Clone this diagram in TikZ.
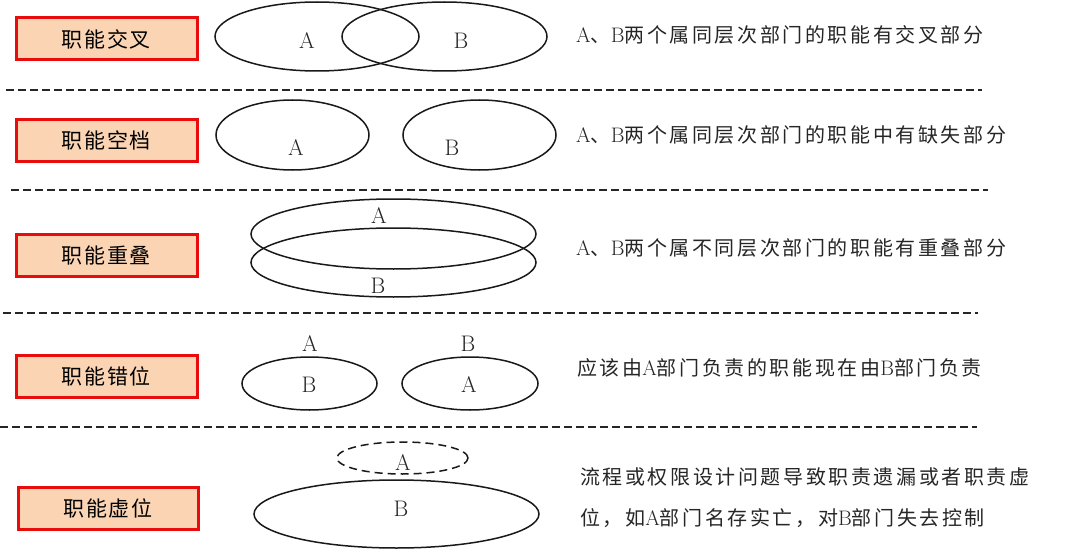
\documentclass[tikz,border=0pt]{standalone}
\usepackage{fontspec}
\usetikzlibrary{shapes.geometric}
\newfontfamily\cjktext[LetterSpace=13]{Noto Sans CJK SC}
\newfontfamily\cjkbox[LetterSpace=8]{Noto Sans CJK SC}
\definecolor{boxfill}{RGB}{251,212,180}
\definecolor{boxred}{RGB}{232,12,12}
\newcommand{\lat}[1]{{\rmfamily\fontsize{21}{24}\selectfont #1}}
\tikzset{
  catbox/.style={draw=boxred, line width=3pt, fill=boxfill, rectangle,
    minimum width=181pt, minimum height=42pt, inner sep=0pt,
    font=\cjkbox\fontsize{21}{24}\selectfont},
  ell/.style={draw=black!90, line width=1.5pt, ellipse, inner sep=0pt},
  dell/.style={ell, dash pattern=on 8pt off 5pt},
  lbl/.style={inner sep=0pt, font=\rmfamily\fontsize{22.5}{26}\selectfont, text=black!85},
  desc/.style={inner sep=0pt, anchor=west, text=black!85,
    font=\cjktext\fontsize{20}{24}\selectfont},
  sep/.style={draw=black!85, line width=1.4pt, dash pattern=on 8pt off 4pt}
}
\begin{document}
\begin{tikzpicture}[x=1pt, y=-1pt]
\useasboundingbox[fill=white] (0,0) rectangle (1080,551);

% category boxes
\node[catbox] (b1) at (106.5,39) {职能交叉};
\node[catbox] (b2) at (106.5,140.5) {职能空档};
\node[catbox] (b3) at (106.5,255) {职能重叠};
\node[catbox] (b4) at (106.5,376) {职能错位};
\node[catbox, minimum width=180pt] (b5) at (108,508.5) {职能虚位};

% separators
\coordinate (s1a) at (6,90);   \coordinate (s1b) at (982,90);
\coordinate (s2a) at (11,190); \coordinate (s2b) at (988,190);
\coordinate (s3a) at (3,313);  \coordinate (s3b) at (978,313);
\coordinate (s4a) at (0,427);  \coordinate (s4b) at (977,427);
\draw[sep] (s1a) -- (s1b);
\draw[sep] (s2a) -- (s2b);
\draw[sep] (s3a) -- (s3b);
\draw[sep] (s4a) -- (s4b);

% row 1: intersecting
\node[ell, minimum width=204pt, minimum height=69pt] (e1a) at (317,36.5) {};
\node[ell, minimum width=205pt, minimum height=69pt] (e1b) at (444.5,36.5) {};
\node[lbl] (l1a) at (307,41) {A};
\node[lbl] (l1b) at (461,41) {B};

% row 2: gap
\node[ell, minimum width=153pt, minimum height=70pt] (e2a) at (292.5,135) {};
\node[ell, minimum width=153pt, minimum height=70pt] (e2b) at (479.5,135) {};
\node[lbl] (l2a) at (296,148) {A};
\node[lbl] (l2b) at (452,148) {B};

% row 3: overlap
\node[ell, minimum width=285pt, minimum height=70pt] (e3a) at (393.5,234) {};
\node[ell, minimum width=285pt, minimum height=69pt] (e3b) at (393.5,262.5) {};
\node[lbl] (l3a) at (379,216) {A};
\node[lbl] (l3b) at (378,286) {B};

% row 4: misplaced
\node[ell, minimum width=135pt, minimum height=53pt] (e4a) at (309.5,383.5) {};
\node[ell, minimum width=136pt, minimum height=53pt] (e4b) at (470,383.5) {};
\node[lbl] (l4a) at (310,344) {A};
\node[lbl] (l4b) at (468,344) {B};
\node[lbl] (l4c) at (309,385) {B};
\node[lbl] (l4d) at (469,385) {A};

% row 5: vacant
\node[dell, minimum width=131pt, minimum height=32pt] (e5a) at (402.5,458) {};
\node[ell, minimum width=285pt, minimum height=68pt] (e5b) at (396.5,514) {};
\node[lbl] (l5a) at (403,463) {A};
\node[lbl] (l5b) at (401,509) {B};

% descriptions
\node[desc] (d1) at (576,35) {\lat{A}、\lat{B}两个属同层次部门的职能有交叉部分};
\node[desc] (d2) at (576,135) {\lat{A}、\lat{B}两个属同层次部门的职能中有缺失部分};
\node[desc] (d3) at (576,248) {\lat{A}、\lat{B}两个属不同层次部门的职能有重叠部分};
\node[desc] (d4) at (577,368) {应该由\lat{A}部门负责的职能现在由\lat{B}部门负责};
\node[desc] (d5a) at (580,477) {流程或权限设计问题导致职责遗漏或者职责虚};
\node[desc] (d5b) at (580,518) {位，如\lat{A}部门名存实亡，对\lat{B}部门失去控制};
\end{tikzpicture}
\end{document}
